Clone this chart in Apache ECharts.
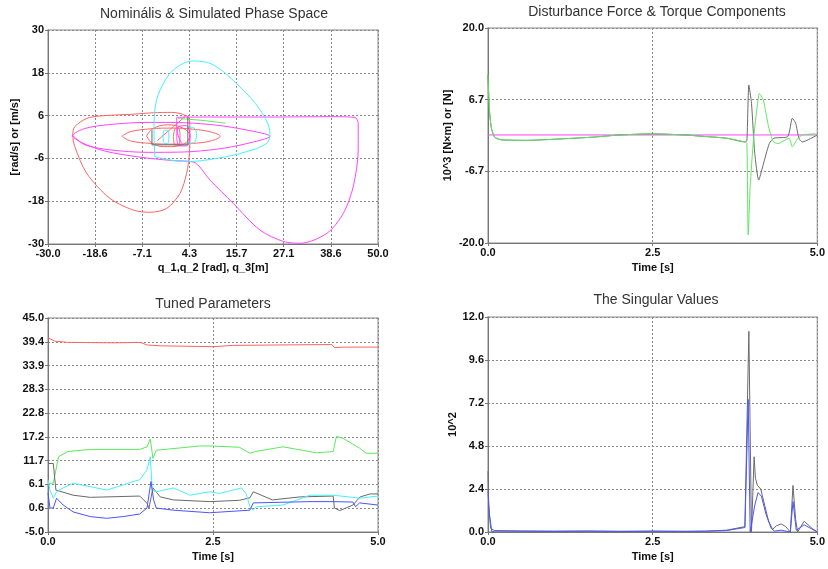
<!DOCTYPE html>
<html>
<head>
<meta charset="utf-8">
<script src="https://cdn.jsdelivr.net/npm/echarts@6/dist/echarts.min.js"></script>
<style>
  html, body { margin: 0; padding: 0; background: #fff; }
  #main { width: 828px; height: 569px; }
</style>
</head>
<body>
<div id="main"></div>
<script>
// phase space curves, [q, dq] pairs
var redLoop = [[4.0,5.7],[2.0,6.6],[0.0,6.9],[-4.5,6.8],[-9.3,6.4],[-17.4,5.9],[-20.6,5.2],[-23.5,2.9],[-24.0,0.6],[-23.5,-2.7],[-20.6,-10.2],[-15.0,-17.2],[-9.3,-20.5],[-5.3,-21.1],[-1.2,-20.0],[2.0,-15.8],[3.6,-10.2],[4.3,-4.6],[4.4,1.0],[4.3,4.8],[4.0,5.7]];
var redOuterEllipse = [[-12.1,0.2],[-10,1.5],[-5,2.3],[0,2.5],[5,2.2],[9.5,1.4],[11.7,0.2],[9.5,-1.1],[5,-1.8],[0,-2.0],[-5,-1.8],[-10,-1.1],[-12.1,0.2]];
var redInnerEllipse = [[-6.1,0.3],[-4.5,2.4],[-1,3.4],[2.5,2.6],[4.4,0.3],[2.5,-2.2],[-1,-2.7],[-4.5,-2.0],[-6.1,0.3]];
var redSmall = [[0.4,0],[0.8,2.3],[1.6,2.6],[2.0,0],[1.6,-2.3],[0.8,-2.3],[0.4,0]];
var redDiag = [[-3.5,-1.0],[0.0,2.5],[3.5,6.0]];
var magentaPath = [[2.4,-1.8],[1.2,2.0],[1.2,5.5],[10,5.6],[25,5.6],[38.6,5.7],[44.4,5.5],[45.2,3.8],[45.2,-3.6],[44.0,-13.9],[41.6,-21.4],[37.6,-27.0],[31.1,-29.8],[27.1,-29.3],[21.4,-26.1],[14.9,-18.6],[9.3,-12.1],[5.2,-7.0],[0,-6.6],[-8,-5.6],[-16,-4.0],[-22,-1.5],[-24,0.4],[-21,2.4],[-15,3.5],[-6,4.1],[3,4.0],[11,3.3],[18,2.0],[23.8,0.2],[18,-1.9],[11,-3.4],[3,-4.2],[-6,-4.3],[-15,-3.6],[-21,-2.2],[-24,0.4]];
var magentaSmall = [[1.2,0],[1.8,3],[3.5,3.2],[4.4,0],[3.5,-2.5],[1.8,-2.5],[1.2,0]];
var cyanLoop = [[-4.1,-5.5],[-4.3,1.0],[-4.1,7.6],[-2.8,13.2],[0.4,18.8],[5.2,21.3],[10.1,20.2],[16.5,14.1],[21.4,7.6],[23.8,1.0],[23.0,-1.8],[18.2,-4.1],[10.9,-6.0],[3.6,-6.9],[-1.2,-6.3],[-4.1,-5.5]];
var cyanSmall = [[-2.1,0],[-1.8,1.9],[-1.0,1.9],[-0.7,0],[-1.0,-1.8],[-1.8,-1.8],[-2.1,0]];
var cyanRect = [[3.6,2.8],[5.5,2.5],[6.0,0.5],[5.5,-1.5],[3.6,-1.8]];
var greenPhase = [[1.5,5.2],[4,5.0],[7,4.7],[10,4.3],[13,3.9]];
var grayPhase = [[-4.8,1.9],[-4.8,-2.2],[3.9,-2.2],[3.9,5.6]];

// disturbance force & torque
var distGreenT = [0, 0.02, 0.05, 0.1, 0.2, 0.6, 1.0, 1.6, 2.0, 2.5, 3.0, 3.2, 3.62, 3.9, 3.93, 3.95, 3.98, 4.03, 4.08, 4.12, 4.18, 4.26, 4.33, 4.4, 4.57, 4.62, 4.7, 4.77, 4.96, 5.0];
var distGreenV = [11.3, 5.0, 1.5, -0.3, -0.8, -0.9, -0.7, -0.3, 0.1, 0.3, 0.1, -0.1, -0.5, -1.2, -1.5, -18.5, -9.5, -0.8, 4.7, 7.8, 6.6, 1.6, -1.1, -1.5, -0.5, -2.1, -0.6, 0.1, 0.3, 0.2];
var distBlackT = [0, 0.02, 0.05, 0.1, 0.2, 0.6, 1.0, 1.6, 2.0, 2.5, 3.0, 3.2, 3.62, 3.9, 3.93, 3.96, 4.0, 4.05, 4.11, 4.17, 4.27, 4.34, 4.55, 4.62, 4.67, 4.72, 4.77, 5.0];
var distBlackV = [11.3, 5.0, 1.5, -0.3, -0.8, -0.9, -0.7, -0.3, 0.1, 0.3, 0.1, -0.1, -0.5, -1.2, -1.0, 9.4, 6.0, -3.3, -8.3, -5.8, -1.5, -0.5, -0.2, 3.2, 2.3, -0.5, -1.2, 0.1];
var distMagentaT = [0, 5.0];
var distMagentaV = [0.1, 0.1];

// tuned parameters
var tunedRedT = [0, 0.1, 0.3, 1.0, 1.4, 1.5, 1.7, 2.5, 2.8, 3.5, 4.3, 4.34, 4.5, 5.0];
var tunedRedV = [40.4, 39.6, 39.3, 39.2, 39.3, 38.7, 38.5, 38.3, 38.6, 38.7, 38.8, 38.1, 38.2, 38.2];
var tunedGreenT = [0, 0.08, 0.16, 0.3, 0.64, 1.39, 1.5, 1.55, 1.59, 1.64, 2.3, 2.45, 2.9, 3.06, 3.14, 3.56, 4.07, 4.32, 4.37, 4.47, 4.72, 4.82, 5.0];
var tunedGreenV = [6.4, 6.4, 12.6, 13.8, 14.3, 14.3, 14.9, 16.7, 12.2, 14.1, 15.1, 15.1, 14.8, 13.4, 13.8, 14.9, 13.5, 13.8, 17.3, 16.9, 14.6, 13.4, 13.4];
var tunedGrayT = [0, 0.08, 0.12, 0.38, 0.64, 1.39, 1.5, 1.53, 1.59, 1.7, 1.9, 2.45, 2.9, 3.06, 3.11, 3.4, 3.82, 4.32, 4.34, 4.42, 4.62, 4.73, 4.88, 5.0];
var tunedGrayV = [11.0, 11.0, 4.8, 3.6, 3.1, 3.4, 1.7, 0.6, 5.3, 3.2, 2.5, 2.1, 2.4, 3.0, 4.4, 2.5, 3.2, 3.4, 0.6, 0.0, 1.3, 3.2, 3.9, 3.9];
var tunedCyanT = [0, 0.03, 0.08, 0.13, 0.23, 0.38, 0.64, 0.89, 1.14, 1.29, 1.39, 1.5, 1.55, 1.58, 1.64, 1.9, 2.15, 2.45, 2.6, 2.93, 3.0, 3.06, 3.11, 3.16, 3.56, 3.97, 4.32, 4.73, 5.0];
var tunedCyanV = [7.2, 4.8, 2.9, 4.4, 5.3, 6.4, 5.6, 4.8, 6.0, 6.8, 7.2, 9.5, 12.6, 4.8, 4.4, 5.3, 3.6, 4.4, 4.0, 5.3, 4.0, 0.9, 0.1, 0.9, 1.3, 3.6, 3.6, 2.9, 3.4];
var tunedBlueT = [0, 0.03, 0.08, 0.13, 0.23, 0.38, 0.64, 0.89, 1.14, 1.39, 1.5, 1.56, 1.6, 1.64, 1.9, 2.45, 3.06, 3.11, 3.97, 4.32, 4.62, 4.66, 4.72, 5.0];
var tunedBlueV = [4.1, 0.6, 0.6, 2.9, 1.3, -0.3, -1.4, -1.8, -1.4, -0.8, 0.6, 6.8, 2.5, 0.6, 0.1, -0.5, 0.1, 1.8, 2.1, 2.1, 2.0, 0.9, 1.8, 1.3];

// singular values
var singGrayT = [0, 0.01, 0.04, 0.1, 0.5, 1.0, 1.5, 2.0, 2.5, 3.0, 3.3, 3.62, 3.9, 3.93, 3.96, 4.0, 4.04, 4.06, 4.09, 4.14, 4.2, 4.26, 4.32, 4.38, 4.45, 4.52, 4.59, 4.63, 4.67, 4.7, 4.8, 4.92, 5.0];
var singGrayV = [3.4, 1.5, 0.2, 0.08, 0.06, 0.05, 0.06, 0.04, 0.05, 0.04, 0.05, 0.1, 0.3, 0.3, 11.2, 0.0, 4.2, 3.0, 2.6, 2.4, 1.5, 0.6, 0.15, 0.35, 0.45, 0.3, 0.0, 2.6, 0.7, 0.0, 0.6, 0.2, 0.0];
var singBlueT = [0, 0.02, 0.06, 0.1, 0.5, 1.0, 1.5, 2.0, 2.5, 3.0, 3.3, 3.62, 3.9, 3.93, 3.95, 3.98, 4.05, 4.1, 4.15, 4.22, 4.3, 4.35, 4.45, 4.59, 4.63, 4.68, 4.8, 4.95, 5.0];
var singBlueV = [2.3, 1.0, 0.0, 0.05, 0.04, 0.03, 0.04, 0.03, 0.04, 0.03, 0.04, 0.08, 0.25, 0.2, 7.4, 0.0, 1.5, 2.2, 2.0, 1.0, 0.2, 0.05, 0.1, 0.0, 1.7, 0.1, 0.4, 0.1, 0.0];

function zip(t, v) {
    var out = [];
    for (var i = 0; i < t.length; i++) {
        out.push([t[i], v[i]]);
    }
    return out;
}

var FONT = 'Liberation Sans';
var cRed = '#ff6464', cMag = '#ff45ff', cCyan = '#45f0ff', cGreen = '#5ee85e', cGray = '#6a6a6a', cBlue = '#4a55ff';

function axisBase(extra) {
    var a = {
        type: 'value',
        axisLine: { show: true, onZero: false, lineStyle: { color: '#777', width: 1 } },
        axisTick: { show: true, length: 3, lineStyle: { color: '#777' } },
        axisLabel: { color: '#111', fontSize: 11, fontWeight: 'bold', fontFamily: FONT, margin: 4 },
        splitLine: { show: true, lineStyle: { color: '#8a8a8a', type: [2, 2], width: 1 } },
        nameTextStyle: { color: '#111', fontSize: 11, fontWeight: 'bold', fontFamily: FONT },
        nameLocation: 'middle'
    };
    for (var k in extra) a[k] = extra[k];
    return a;
}

function fmt1(v) { return v.toFixed(1); }

function line(name, data, color, xi, smooth) {
    return {
        name: name, type: 'line', xAxisIndex: xi, yAxisIndex: xi,
        data: data, showSymbol: false, symbol: 'none', smooth: smooth || false,
        lineStyle: { color: color, width: 1 }, itemStyle: { color: color },
        animation: false, clip: true
    };
}

var myChart = echarts.init(document.getElementById('main'), null, { renderer: 'canvas' });

var titleFont = '14px "Liberation Sans"';
var option = {
    backgroundColor: '#fff',
    animation: false,
    graphic: [
        { type: 'text', x: 214, y: 14, style: { text: 'Nominális & Simulated Phase Space', font: titleFont, fill: '#333', align: 'center', verticalAlign: 'middle' } },
        { type: 'text', x: 657, y: 12, style: { text: 'Disturbance Force & Torque Components', font: titleFont, fill: '#333', align: 'center', verticalAlign: 'middle' } },
        { type: 'text', x: 213, y: 304, style: { text: 'Tuned Parameters', font: titleFont, fill: '#333', align: 'center', verticalAlign: 'middle' } },
        { type: 'text', x: 656, y: 300, style: { text: 'The Singular Values', font: titleFont, fill: '#333', align: 'center', verticalAlign: 'middle' } }
    ],
    grid: [
        { left: 48, width: 330, top: 30, height: 214, show: true, borderColor: '#b0b0b0', borderWidth: 1.5 },
        { left: 488, width: 334, top: 28, height: 215, show: true, borderColor: '#b0b0b0', borderWidth: 1.5 },
        { left: 48, width: 330, top: 318, height: 214, show: true, borderColor: '#b0b0b0', borderWidth: 1.5 },
        { left: 488, width: 334, top: 317, height: 215, show: true, borderColor: '#b0b0b0', borderWidth: 1.5 }
    ],
    xAxis: [
        axisBase({ gridIndex: 0, min: -30, max: 50, interval: 80 / 7, name: 'q_1,q_2 [rad], q_3[m]', nameGap: 18,
            axisLabel: { color: '#111', fontSize: 11, fontWeight: 'bold', fontFamily: FONT, margin: 4, formatter: fmt1 } }),
        axisBase({ gridIndex: 1, min: 0, max: 5, interval: 2.5, name: 'Time [s]', nameGap: 19,
            axisLabel: { color: '#111', fontSize: 11, fontWeight: 'bold', fontFamily: FONT, margin: 4, formatter: fmt1 } }),
        axisBase({ gridIndex: 2, min: 0, max: 5, interval: 2.5, name: 'Time [s]', nameGap: 19,
            axisLabel: { color: '#111', fontSize: 11, fontWeight: 'bold', fontFamily: FONT, margin: 4, formatter: fmt1 } }),
        axisBase({ gridIndex: 3, min: 0, max: 5, interval: 2.5, name: 'Time [s]', nameGap: 19,
            axisLabel: { color: '#111', fontSize: 11, fontWeight: 'bold', fontFamily: FONT, margin: 4, formatter: fmt1 } })
    ],
    yAxis: [
        axisBase({ gridIndex: 0, min: -30, max: 30, interval: 12, name: '[rad/s] or [m/s]', nameGap: 28,
            axisLabel: { color: '#111', fontSize: 11, fontWeight: 'bold', fontFamily: FONT, margin: 4, formatter: function (v) { return Math.round(v); } } }),
        axisBase({ gridIndex: 1, min: -20, max: 20, interval: 40 / 3, name: '10^3 [N×m] or [N]', nameGap: 35,
            axisLabel: { color: '#111', fontSize: 11, fontWeight: 'bold', fontFamily: FONT, margin: 4, formatter: fmt1 } }),
        axisBase({ gridIndex: 2, min: -5, max: 45, interval: 50 / 9,
            axisLabel: { color: '#111', fontSize: 11, fontWeight: 'bold', fontFamily: FONT, margin: 4, formatter: fmt1 } }),
        axisBase({ gridIndex: 3, min: 0, max: 12, interval: 2.4, name: '10^2', nameGap: 30,
            axisLabel: { color: '#111', fontSize: 11, fontWeight: 'bold', fontFamily: FONT, margin: 4, formatter: fmt1 } })
    ],
    series: [
        line('red1', redLoop, cRed, 0, 0.3),
        line('red2', redOuterEllipse, cRed, 0, 0.4),
        line('red3', redInnerEllipse, cRed, 0, 0.4),
        line('red4', redSmall, cRed, 0, 0.4),
        line('red5', redDiag, cRed, 0, 0.2),
        line('mag1', magentaPath, cMag, 0, 0.3),
        line('mag2', magentaSmall, cMag, 0, 0.4),
        line('cyan1', cyanLoop, cCyan, 0, 0.35),
        line('cyan2', cyanSmall, cCyan, 0, 0.4),
        line('cyan3', cyanRect, cCyan, 0, 0.3),
        line('green1', greenPhase, cGreen, 0, 0.3),
        line('gray1', grayPhase, cGray, 0, false),

        line('dMag', zip(distMagentaT, distMagentaV), cMag, 1),
        line('dBlack', zip(distBlackT, distBlackV), cGray, 1, 0.2),
        line('dGreen', zip(distGreenT, distGreenV), cGreen, 1, 0.2),

        line('tRed', zip(tunedRedT, tunedRedV), cRed, 2),
        line('tGreen', zip(tunedGreenT, tunedGreenV), cGreen, 2),
        line('tGray', zip(tunedGrayT, tunedGrayV), cGray, 2),
        line('tCyan', zip(tunedCyanT, tunedCyanV), cCyan, 2),
        line('tBlue', zip(tunedBlueT, tunedBlueV), cBlue, 2),

        line('sGray', zip(singGrayT, singGrayV), cGray, 3),
        line('sBlue', zip(singBlueT, singBlueV), cBlue, 3)
    ]
};
myChart.setOption(option);
window.addEventListener('resize', function () {
    myChart.resize();
});
</script>
</body>
</html>
